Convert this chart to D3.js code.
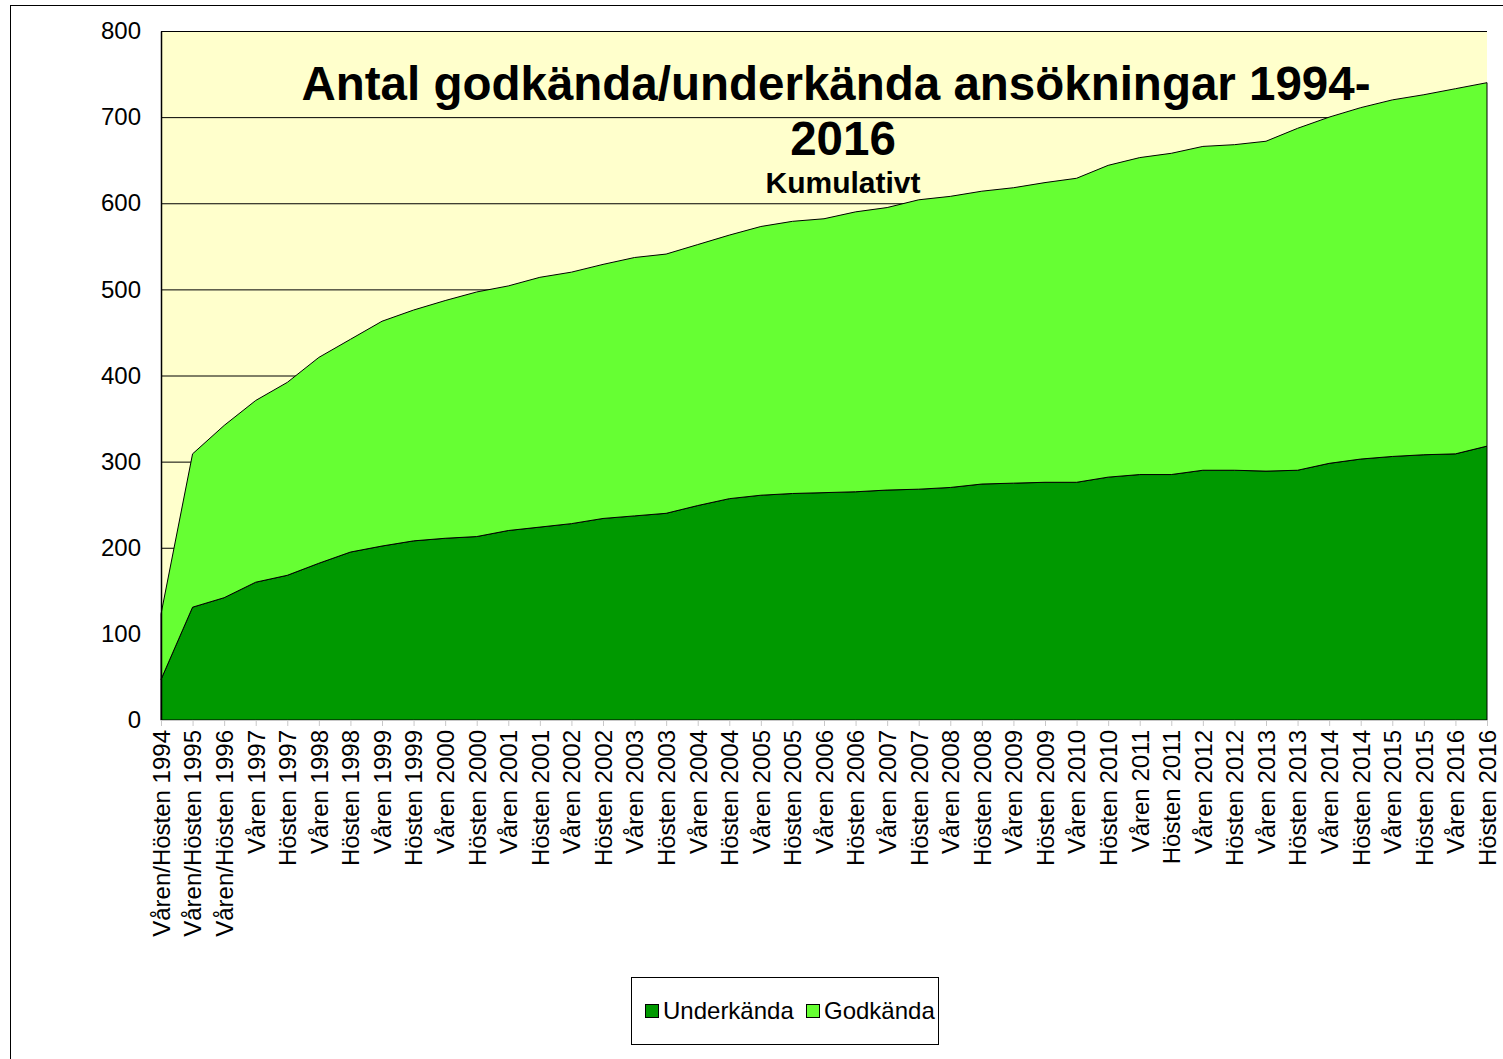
<!DOCTYPE html>
<html lang="sv">
<head>
  <meta charset="UTF-8">
  <title>Antal godkända/underkända ansökningar 1994-2016</title>
  <script src="https://d3js.org/d3.v7.min.js"></script>
  <style>
    body { margin: 0; background: #fff; }
    svg { display: block; font-family: "Liberation Sans", Arial, sans-serif; }
  </style>
</head>
<body>
  <svg width="1503" height="1059"></svg>

  <script>
    // Categories (x axis)
    const categories = [
      "Våren/Hösten 1994", "Våren/Hösten 1995", "Våren/Hösten 1996",
      "Våren 1997", "Hösten 1997", "Våren 1998", "Hösten 1998",
      "Våren 1999", "Hösten 1999", "Våren 2000", "Hösten 2000",
      "Våren 2001", "Hösten 2001", "Våren 2002", "Hösten 2002",
      "Våren 2003", "Hösten 2003", "Våren 2004", "Hösten 2004",
      "Våren 2005", "Hösten 2005", "Våren 2006", "Hösten 2006",
      "Våren 2007", "Hösten 2007", "Våren 2008", "Hösten 2008",
      "Våren 2009", "Hösten 2009", "Våren 2010", "Hösten 2010",
      "Våren 2011", "Hösten 2011", "Våren 2012", "Hösten 2012",
      "Våren 2013", "Hösten 2013", "Våren 2014", "Hösten 2014",
      "Våren 2015", "Hösten 2015", "Våren 2016", "Hösten 2016"
    ];

    // Cumulative counts, stacked: underkända at bottom, godkända on top
    const underkanda = [
      47, 131, 142, 160, 168, 182, 195, 202, 208, 211, 213,
      220, 224, 228, 234, 237, 240, 249, 257, 261, 263, 264,
      265, 267, 268, 270, 274, 275, 276, 276, 282, 285, 285,
      290, 290, 289, 290, 298, 303, 306, 308, 309, 318
    ];
    const godkanda = [
      76, 178, 200, 211, 224, 239, 247, 261, 268, 276, 284,
      284, 290, 292, 295, 300, 301, 303, 306, 312, 316, 318,
      325, 328, 336, 338, 340, 343, 348, 353, 362, 368, 373,
      376, 378, 383, 397, 402, 408, 414, 418, 424, 422
    ];

    const yTicks = [0, 100, 200, 300, 400, 500, 600, 700, 800];
    const seriesNames = ["Underkända", "Godkända"];
    const colors = ["#009900", "#66ff33"];

    const svg = d3.select("svg");

    // outer frame
    svg.append("rect")
      .attr("x", 10.5).attr("y", 5.5)
      .attr("width", 1520).attr("height", 1080)
      .attr("fill", "none").attr("stroke", "#000").attr("stroke-width", 1);

    const plotLeft = 161, plotRight = 1487, plotTop = 31, plotBottom = 720;

    const x = d3.scalePoint().domain(categories).range([plotLeft, plotRight]);
    const y = d3.scaleLinear().domain([0, 800]).range([plotBottom, plotTop]);

    // plot background
    svg.append("rect")
      .attr("x", plotLeft).attr("y", plotTop)
      .attr("width", plotRight - plotLeft).attr("height", plotBottom - plotTop)
      .attr("fill", "#ffffcc");

    // gridlines
    svg.append("g")
      .selectAll("line")
      .data(yTicks.filter(d => d > 0))
      .join("line")
      .attr("x1", plotLeft).attr("x2", plotRight)
      .attr("y1", d => y(d) + 0.5).attr("y2", d => y(d) + 0.5)
      .attr("stroke", "#000").attr("stroke-width", 1);

    // stacked areas
    const rows = categories.map((c, i) => ({ cat: c, Underkända: underkanda[i], Godkända: godkanda[i] }));
    const stack = d3.stack().keys(seriesNames)(rows);

    const area = d3.area()
      .x(d => x(d.data.cat))
      .y0(d => y(d[0]))
      .y1(d => y(d[1]));

    svg.append("g")
      .selectAll("path")
      .data(stack)
      .join("path")
      .attr("d", area)
      .attr("fill", (d, i) => colors[i])
      .attr("stroke", "#000")
      .attr("stroke-width", 1)
      .attr("stroke-linejoin", "round");

    // y axis
    const yAxis = svg.append("g")
      .attr("transform", `translate(${plotLeft},0)`)
      .call(d3.axisLeft(y).tickValues(yTicks).tickSize(0).tickPadding(20));
    yAxis.select(".domain").attr("stroke", "#000").attr("stroke-width", 1.5);
    yAxis.selectAll("text")
      .attr("font-size", 24).attr("fill", "#000")
      .attr("font-family", "Liberation Sans, Arial, sans-serif");

    // x axis
    const xAxis = svg.append("g")
      .attr("transform", `translate(0,${plotBottom})`)
      .call(d3.axisBottom(x).tickSize(6).tickSizeOuter(0).tickPadding(8));
    xAxis.select(".domain").attr("stroke", "#c8c8c8").attr("stroke-width", 1);
    xAxis.selectAll(".tick line").attr("stroke", "#c8c8c8");
    xAxis.selectAll("text")
      .attr("font-size", 24).attr("fill", "#000")
      .attr("font-family", "Liberation Sans, Arial, sans-serif")
      .attr("transform", "rotate(-90)")
      .attr("text-anchor", "end")
      .attr("x", -10).attr("y", 0).attr("dy", "0.35em");

    // title
    const title = svg.append("g")
      .attr("font-weight", "bold")
      .attr("text-anchor", "middle")
      .attr("fill", "#000");
    title.append("text")
      .attr("x", 836).attr("y", 100)
      .attr("font-size", 47.5)
      .text("Antal godkända/underkända ansökningar 1994-");
    title.append("text")
      .attr("x", 843).attr("y", 155)
      .attr("font-size", 47.5)
      .text("2016");
    title.append("text")
      .attr("x", 843).attr("y", 193)
      .attr("font-size", 30)
      .text("Kumulativt");

    // legend
    const legend = svg.append("g");
    legend.append("rect")
      .attr("x", 631.5).attr("y", 977.5)
      .attr("width", 307).attr("height", 67)
      .attr("fill", "#fff").attr("stroke", "#000").attr("stroke-width", 1);

    const legendItems = [
      { name: seriesNames[0], color: colors[0], x: 645 },
      { name: seriesNames[1], color: colors[1], x: 806 }
    ];
    const li = legend.selectAll("g.item")
      .data(legendItems)
      .join("g")
      .attr("class", "item")
      .attr("transform", d => `translate(${d.x},1004)`);
    li.append("rect")
      .attr("x", 0.5).attr("y", 0.5)
      .attr("width", 13).attr("height", 13)
      .attr("fill", d => d.color)
      .attr("stroke", "#000").attr("stroke-width", 1);
    li.append("text")
      .attr("x", 18).attr("y", 15)
      .attr("font-size", 24)
      .attr("fill", "#000")
      .text(d => d.name);
  </script>
</body>
</html>
